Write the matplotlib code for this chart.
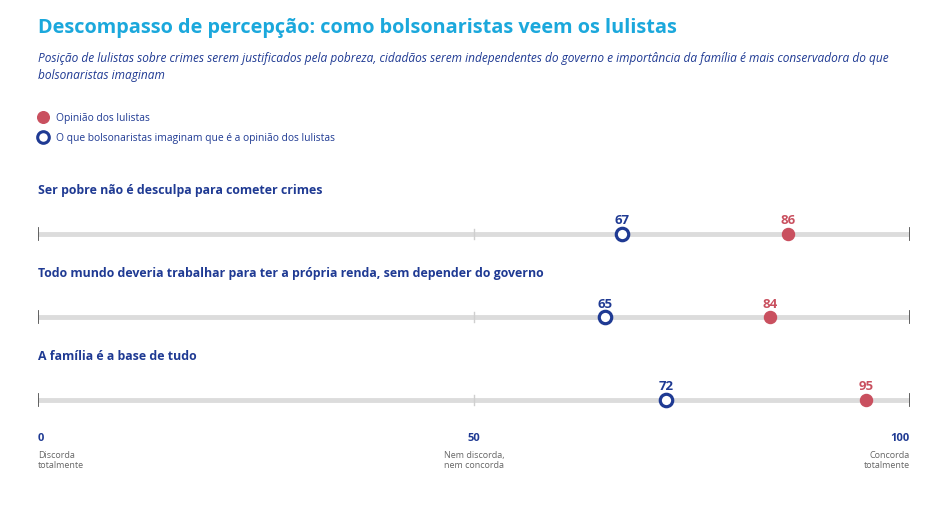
import matplotlib.pyplot as plt

# dados
perguntas = ["Ser pobre não é desculpa para cometer crimes",
             "Todo mundo deveria trabalhar para ter a própria renda, sem depender do governo",
             "A família é a base de tudo"]
lulistas = [86, 84, 95]
imaginado = [67, 65, 72]
ticks = [0, 50, 100]
tick_desc = ["Discorda\ntotalmente", "Nem discorda,\nnem concorda", "Concorda\ntotalmente"]

azul = "#1f3a93"
vermelho = "#c9505f"
ciano = "#1ba8dc"

plt.rcParams['font.family'] = ['Open Sans', 'DejaVu Sans']

fig = plt.figure(figsize=(9.44, 5.06), dpi=100)
ax = fig.add_axes([38 / 944, 0, 872 / 944, 1])
ax.set_xlim(0, 100)
ax.set_ylim(506, 0)
ax.axis('off')

# cabeçalho
ax.text(0, 28, "Descompasso de percepção: como bolsonaristas veem os lulistas",
        fontsize=14.3, fontweight='bold', color=ciano, va='center', ha='left')
ax.text(0, 67, "Posição de lulistas sobre crimes serem justificados pela pobreza, cidadãos serem "
        "independentes do governo e importância da família é mais conservadora do que\nbolsonaristas imaginam",
        fontsize=8.55, style='italic', color=azul, va='center', ha='left', linespacing=1.35)

# legenda
ax.scatter([0.6], [118], s=70, color=vermelho, clip_on=False, zorder=3)
ax.text(2.05, 118, "Opinião dos lulistas", fontsize=7.4, color=azul, va='center')
ax.scatter([0.6], [138], s=70, facecolor='white', edgecolor=azul, linewidth=2.2,
           clip_on=False, zorder=3)
ax.text(2.05, 138, "O que bolsonaristas imaginam que é a opinião dos lulistas",
        fontsize=7.4, color=azul, va='center')

# linhas
y0 = 235
passo = 83
for i, pergunta in enumerate(perguntas):
    y = y0 + i * passo
    ax.text(0, y - 45, pergunta, fontsize=8.9, fontweight='bold', color=azul,
            va='center', ha='left')
    ax.plot([0, 100], [y, y], color='#dcdcdc', linewidth=3.5, solid_capstyle='butt', zorder=1)
    ax.plot([0, 0], [y - 6, y + 6], color='#555555', linewidth=1.3, zorder=2)
    ax.plot([100, 100], [y - 6, y + 6], color='#555555', linewidth=1.3, zorder=2)
    ax.plot([50, 50], [y - 5, y + 5], color='#cfcfcf', linewidth=1.0, zorder=2)
    ax.scatter([lulistas[i]], [y], s=75, color=vermelho, zorder=3)
    ax.scatter([imaginado[i]], [y], s=80, facecolor='white', edgecolor=azul,
               linewidth=2.3, zorder=4)
    ax.text(lulistas[i], y - 14, str(lulistas[i]), fontsize=9.5, fontweight='bold',
            color=vermelho, ha='center', va='center')
    ax.text(imaginado[i], y - 14, str(imaginado[i]), fontsize=9.5, fontweight='bold',
            color=azul, ha='center', va='center')

# eixo inferior
alinh = ['left', 'center', 'right']
for t, d, a in zip(ticks, tick_desc, alinh):
    ax.text(t, 439, str(t), fontsize=8, fontweight='bold', color=azul, ha=a, va='center')
    ax.text(t, 451, d, fontsize=6.5, color='#666666', ha=a, va='top', linespacing=1.2)

plt.savefig("out.png", dpi=100)
